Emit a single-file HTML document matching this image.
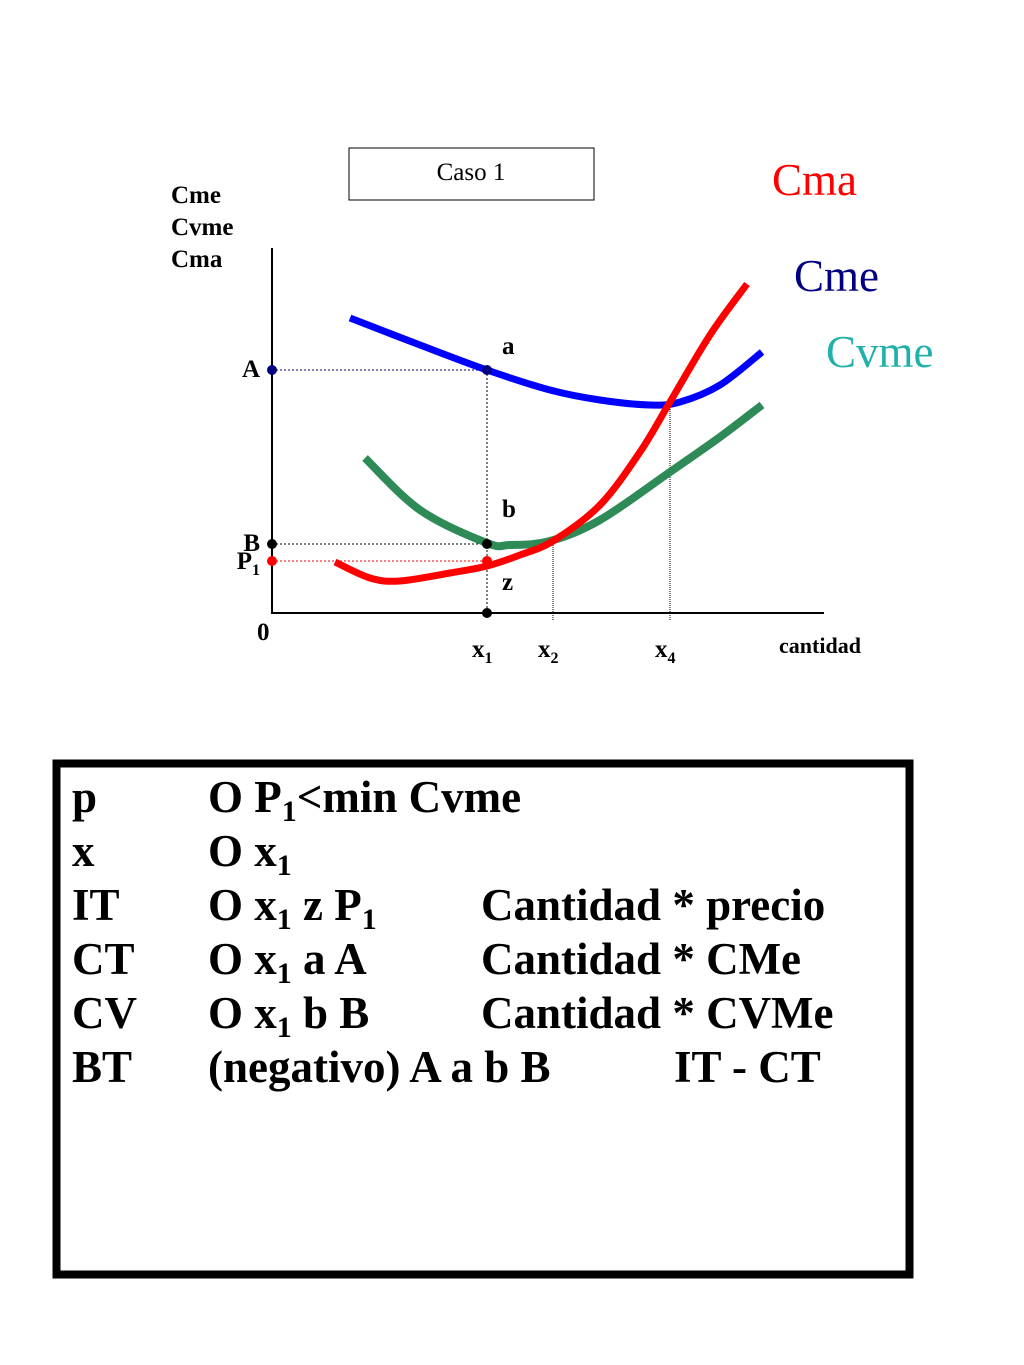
<!DOCTYPE html>
<html><head><meta charset="utf-8"><style>
html,body{margin:0;padding:0;background:#fff}
svg{display:block}
text{font-family:"Liberation Serif","Times New Roman",serif}
</style></head><body>
<svg id="chart" width="1024" height="1365" viewBox="0 0 1024 1365">
<rect x="349" y="148" width="245" height="52" fill="#fff" stroke="#000" stroke-width="1"/>
<text x="471" y="180" font-size="25" text-anchor="middle">Caso 1</text>
<g font-weight="bold" font-size="25">
<text x="171" y="203">Cme</text><text x="171" y="235">Cvme</text><text x="171" y="267">Cma</text></g>
<text x="772" y="195" font-size="45" fill="#ff0000">Cma</text>
<text x="794" y="291" font-size="45" fill="#000080">Cme</text>
<text x="826" y="367" font-size="45" fill="#20b2aa">Cvme</text>
<line x1="272" y1="248" x2="272" y2="614" stroke="#000" stroke-width="2"/>
<line x1="271" y1="613" x2="824" y2="613" stroke="#000" stroke-width="2"/>
<g id="guides"></g>
<g id="curves"></g>
<g id="points"></g>
<g font-weight="bold" font-size="25" id="labels"></g>
<text x="820" y="653" font-size="22" font-weight="bold" text-anchor="middle">cantidad</text>
<rect x="56.5" y="763.5" width="853" height="511" fill="none" stroke="#000" stroke-width="8"/>
<g font-weight="bold" font-size="45">
<text x="72" y="812">p</text><text x="208" y="812">O P<tspan font-size="30" dy="9">1</tspan><tspan dy="-9">&lt;min Cvme</tspan></text>
<text x="72" y="866">x</text><text x="208" y="866">O x<tspan font-size="30" dy="9">1</tspan></text>
<text x="72" y="920">IT</text><text x="208" y="920">O x<tspan font-size="30" dy="9">1</tspan><tspan dy="-9"> z P</tspan><tspan font-size="30" dy="9">1</tspan></text><text x="481" y="920">Cantidad * precio</text>
<text x="72" y="974">CT</text><text x="208" y="974">O x<tspan font-size="30" dy="9">1</tspan><tspan dy="-9"> a A</tspan></text><text x="481" y="974">Cantidad * CMe</text>
<text x="72" y="1028">CV</text><text x="208" y="1028">O x<tspan font-size="30" dy="9">1</tspan><tspan dy="-9"> b B</tspan></text><text x="481" y="1028">Cantidad * CVMe</text>
<text x="72" y="1082">BT</text><text x="208" y="1082">(negativo) A a b B</text><text x="674" y="1082">IT - CT</text>
</g>
</svg>
<script>
const cmeQ=[78,148,215,278,328,378,408,448,490];
const cmeV=[295,268,243,223,213,208,211,228,261];
const cvmeQ=[93,148,215,238,278,328,398,448,490];
const cvmeV=[155,103,70,68,72,93,141,176,208];
const cmaQ=[63,98,128,178,215,248,281,328,368,398,438,475];
const cmaV=[51,35,32,40,47,58,72,108,161,211,278,329];
const qMarks=[215,281,398];
const qLabels=["x","x","x"];
const qSubs=["1","2","4"];
const levelV=[243,69,52];
const levelLabels=["A","B","P"];
const levelColors=["#000080","#000","#ff0000"];
const xs=v=>272+v, ys=v=>613-v;
const NS="http://www.w3.org/2000/svg";
function mk(tag,attrs,parent){const e=document.createElementNS(NS,tag);for(const k in attrs)e.setAttribute(k,attrs[k]);parent.appendChild(e);return e;}
function smooth(Q,V){const p=Q.map((q,i)=>[xs(q),ys(V[i])]);let d="M"+p[0][0]+","+p[0][1];
for(let i=0;i<p.length-1;i++){const p0=p[i-1]||p[i],p1=p[i],p2=p[i+1],p3=p[i+2]||p2;
d+=" C"+(p1[0]+(p2[0]-p0[0])/6)+","+(p1[1]+(p2[1]-p0[1])/6)+" "+(p2[0]-(p3[0]-p1[0])/6)+","+(p2[1]-(p3[1]-p1[1])/6)+" "+p2[0]+","+p2[1];}return d;}
const cg=document.getElementById('curves');
let c=mk('path',{d:smooth(cmeQ,cmeV),stroke:"#0000ff","stroke-width":7,fill:"none"},cg);


c=mk('path',{d:smooth(cvmeQ,cvmeV),stroke:"#2e8b57","stroke-width":8,fill:"none"},cg);


c=mk('path',{d:smooth(cmaQ,cmaV),stroke:"#ff0000","stroke-width":7,fill:"none"},cg);


const gg=document.getElementById('guides'),pg=document.getElementById('points'),lg=document.getElementById('labels');
levelV.forEach((v,i)=>{const l=mk('line',{x1:xs(0),y1:ys(v),x2:xs(qMarks[0]),y2:ys(v),stroke:levelColors[i],"stroke-width":1,"stroke-dasharray":"2,2"},gg);


const d=mk('circle',{cx:xs(0),cy:ys(v),r:5,fill:levelColors[i]},pg);


const t=mk('text',{x:xs(0)-(i==2?12:12),y:ys(v)+(i==2?8:7),"text-anchor":"end"},lg);
t.textContent=levelLabels[i];
if(i==2){const s=mk('tspan',{"font-size":16,dy:6},t);s.textContent="1";}

});
[[qMarks[0],cmeV[2]],[qMarks[1],72],[qMarks[2],208]].forEach((p,i)=>{const l=mk('line',{x1:xs(p[0]),y1:ys(p[1]),x2:xs(p[0]),y2:i==0?613:620,stroke:"#000","stroke-width":1,"stroke-dasharray":i==0?"2,2":"1,1"},gg);

});
[[cmeV[2],"#000080"],[levelV[1],"#000"],[levelV[2],"#ff0000"],[0,"#000"]].forEach((p,i)=>{const d=mk('circle',{cx:xs(qMarks[0]),cy:ys(p[0]),r:5,fill:p[1]},pg);

});
[["a",cmeV[2]+16],["b",96],["z",23]].forEach(p=>{const t=mk('text',{x:xs(qMarks[0])+15,y:ys(p[1])},lg);t.textContent=p[0];

});
const o=mk('text',{x:257,y:640},lg);o.textContent="0";


qMarks.forEach((q,i)=>{const t=mk('text',{x:xs(q)-15,y:657},lg);t.textContent=qLabels[i];
const s=mk('tspan',{"font-size":16,dy:6},t);s.textContent=qSubs[i];

});
</script>
</body></html>
